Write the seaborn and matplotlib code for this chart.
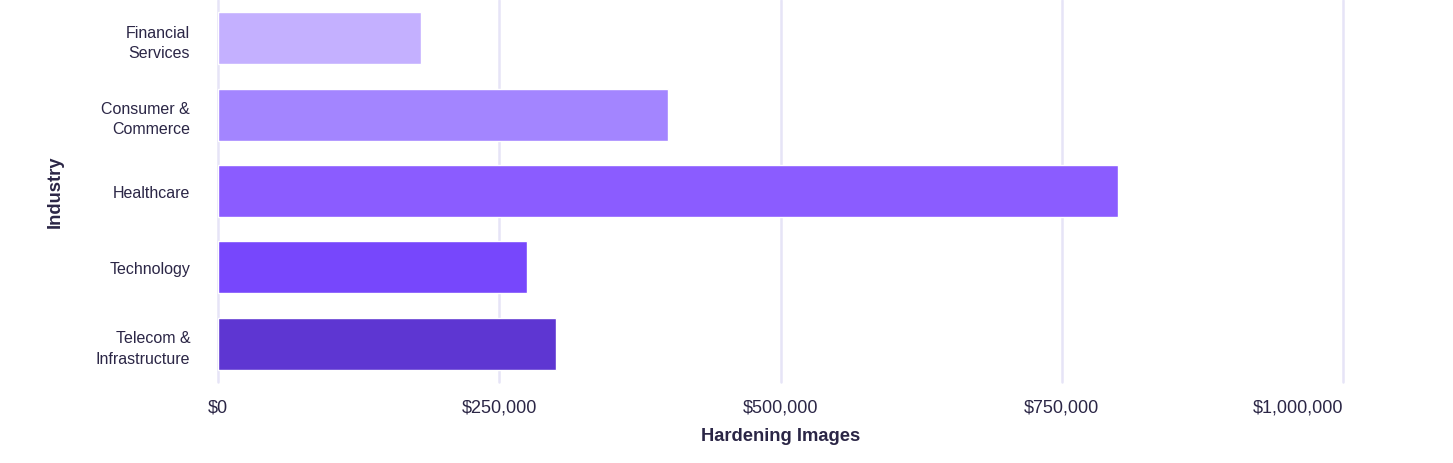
import matplotlib.pyplot as plt
import seaborn as sns
import pandas as pd
from matplotlib.ticker import FuncFormatter

# Values
industries = ['Financial\nServices', 'Consumer &\nCommerce', 'Healthcare',
              'Technology', 'Telecom &\nInfrastructure']
hardening = [180000, 400000, 800000, 275000, 300000]
bar_colors = ['#c4b0ff', '#a385ff', '#8b5cff', '#7747fc', '#5e36d2']
x_ticks = [0, 250000, 500000, 750000, 1000000]

df = pd.DataFrame({'Industry': industries, 'Hardening Images': hardening})

text_color = '#2b2646'
grid_color = '#e6e4f7'

sns.set_theme(style='white')
plt.rcParams['font.family'] = ['Liberation Sans', 'DejaVu Sans']

fig = plt.figure(figsize=(14.53, 4.64), dpi=100)
ax = fig.add_axes([218 / 1453, 1 - 383 / 464, (1343 - 218) / 1453, 382 / 464])

sns.barplot(data=df, y='Industry', x='Hardening Images', hue='Industry',
            palette=bar_colors, orient='h', width=0.68, legend=False,
            saturation=1, ax=ax)

ax.set_xlim(0, 1000000)
ax.set_ylim(4.5, -0.5)
ax.set_xticks(x_ticks)
ax.xaxis.set_major_formatter(FuncFormatter(lambda v, p: f'${v:,.0f}'))
ax.grid(axis='x', color=grid_color, linewidth=1.8)
ax.set_axisbelow(True)
for line in ax.get_xgridlines():
    line.set_clip_on(False)
for s in ax.spines.values():
    s.set_visible(False)

ax.tick_params(axis='x', length=0, pad=12, labelsize=13, labelcolor=text_color)
ax.tick_params(axis='y', length=0, pad=20, labelsize=11.5, labelcolor=text_color)
for lbl in ax.get_yticklabels():
    lbl.set_horizontalalignment('right')
    lbl.set_multialignment('right')
    lbl.set_linespacing(1.45)
xlabels = ax.get_xticklabels()
xlabels[-1].set_horizontalalignment('right')

ax.set_xlabel('Hardening Images', fontsize=13.2, fontweight='bold', color=text_color, labelpad=8)
ax.set_ylabel('Industry', fontsize=13.2, fontweight='bold', color=text_color, labelpad=23)

fig.savefig('out.png', dpi=100, facecolor='white')
